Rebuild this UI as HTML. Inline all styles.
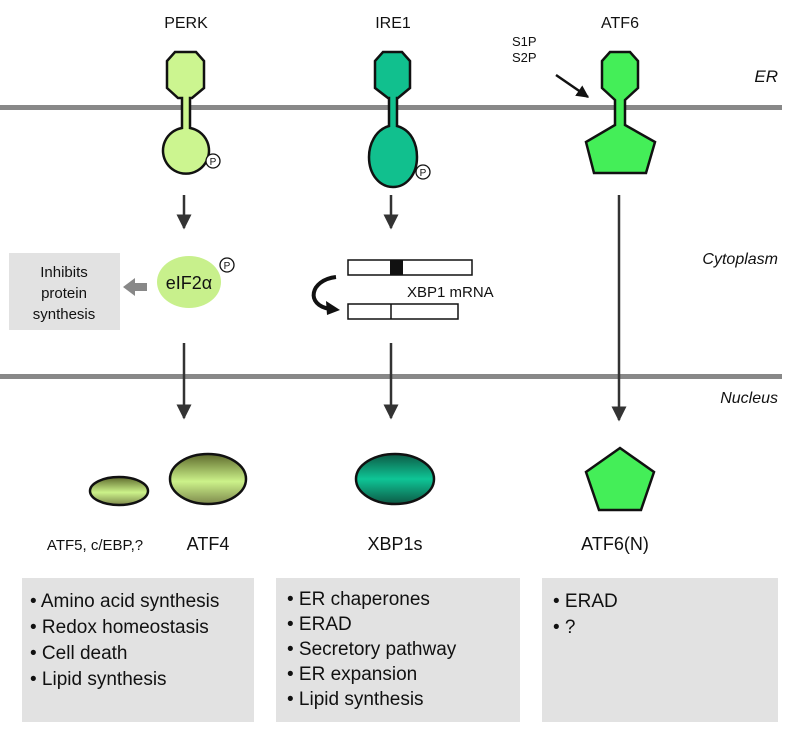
<!DOCTYPE html>
<html><head><meta charset="utf-8"><style>
html,body{margin:0;padding:0;background:#fff;}
svg{display:block;}
text{font-family:"Liberation Sans",sans-serif;fill:#111;}
</style></head><body>
<svg width="792" height="732" viewBox="0 0 792 732" xmlns="http://www.w3.org/2000/svg">
<defs>
<marker id="ah" viewBox="0 0 10 10" refX="9" refY="5" markerWidth="6" markerHeight="6" orient="auto"><path d="M0,0 L10,5 L0,10 z" fill="#333"/></marker>
<marker id="ah2" viewBox="0 0 10 10" refX="9" refY="5" markerWidth="5" markerHeight="5" orient="auto"><path d="M0,0 L10,5 L0,10 z" fill="#111"/></marker>
<linearGradient id="gP" x1="0" y1="0" x2="0" y2="1"><stop offset="0" stop-color="#5e6a2c"/><stop offset="0.55" stop-color="#ccf28a"/><stop offset="1" stop-color="#7e8a4c"/></linearGradient>
<linearGradient id="gI" x1="0" y1="0" x2="0" y2="1"><stop offset="0" stop-color="#0d5a45"/><stop offset="0.5" stop-color="#0ec596"/><stop offset="1" stop-color="#0d5a45"/></linearGradient>
</defs>
<rect x="0" y="105" width="782" height="5" fill="#888"/>
<rect x="0" y="374" width="782" height="5" fill="#888"/>
<text x="186" y="28" font-size="16" text-anchor="middle">PERK</text>
<text x="393" y="28" font-size="16" text-anchor="middle">IRE1</text>
<text x="620" y="28" font-size="16" text-anchor="middle">ATF6</text>
<text x="778" y="82" font-size="17" font-style="italic" text-anchor="end">ER</text>
<text x="778" y="264" font-size="16" font-style="italic" text-anchor="end">Cytoplasm</text>
<text x="778" y="403" font-size="16" font-style="italic" text-anchor="end">Nucleus</text>
<path d="M175,52 L196,52 L204,61 L204,88 L192,98 L190,98 L190,128 A23,23 0 1 1 182,128 L182,98 L178,98 L167,88 L167,61 Z" fill="#ccf590" stroke="#111" stroke-width="2.5"/>
<circle cx="213" cy="161" r="7" fill="#fff" stroke="#111" stroke-width="1.3"/><text x="213" y="165" font-size="10" text-anchor="middle">P</text>
<path d="M383,52 L402,52 L410,61 L410,88 L398,98 L397,98 L397,126 C412,130 417,145 417,157 C417,175 406,187 393,187 C380,187 369,175 369,157 C369,145 375,130 389,126 L389,98 L388,98 L375,88 L375,61 Z" fill="#11c08e" stroke="#111" stroke-width="2.5"/>
<circle cx="423" cy="172" r="7" fill="#fff" stroke="#111" stroke-width="1.3"/><text x="423" y="176" font-size="10" text-anchor="middle">P</text>
<path d="M610,52 L630,52 L638,61 L638,88 L625,100 L625,125 L655,142 L646,173 L594,173 L586,142 L615,125 L615,100 L602,88 L602,61 Z" fill="#44ee58" stroke="#111" stroke-width="2.5"/>
<text x="512" y="46" font-size="13">S1P</text>
<text x="512" y="62" font-size="13">S2P</text>
<line x1="556" y1="75" x2="588" y2="97" stroke="#111" stroke-width="2.5" marker-end="url(#ah2)"/>
<g stroke="#333" stroke-width="2.5" marker-end="url(#ah)">
<line x1="184" y1="195" x2="184" y2="228"/>
<line x1="391" y1="195" x2="391" y2="228"/>
<line x1="619" y1="195" x2="619" y2="420"/>
<line x1="184" y1="343" x2="184" y2="418"/>
<line x1="391" y1="343" x2="391" y2="418"/>
</g>
<rect x="9" y="253" width="111" height="77" fill="#e2e2e2"/>
<text x="64" y="277" font-size="15" text-anchor="middle">Inhibits</text>
<text x="64" y="298" font-size="15" text-anchor="middle">protein</text>
<text x="64" y="319" font-size="15" text-anchor="middle">synthesis</text>
<path d="M147,283 L135,283 L135,278 L123,287 L135,296 L135,291 L147,291 Z" fill="#888"/>
<ellipse cx="189" cy="282" rx="32" ry="26" fill="#c8f08c"/>
<text x="189" y="289" font-size="18" text-anchor="middle">eIF2α</text>
<circle cx="227" cy="265" r="7" fill="#fff" stroke="#111" stroke-width="1.3"/><text x="227" y="269" font-size="10" text-anchor="middle">P</text>
<rect x="348" y="260" width="124" height="15" fill="#fff" stroke="#111" stroke-width="1.5"/>
<rect x="390" y="260" width="13" height="15" fill="#111"/>
<rect x="348" y="304" width="110" height="15" fill="#fff" stroke="#111" stroke-width="1.5"/>
<line x1="391" y1="304" x2="391" y2="319" stroke="#111" stroke-width="1.5"/>
<path d="M336,277 C310,280 305,305 330,309" fill="none" stroke="#111" stroke-width="4"/>
<path d="M326,301 L340,310 L327,315 Z" fill="#111"/>
<text x="407" y="297" font-size="15">XBP1 mRNA</text>
<ellipse cx="119" cy="491" rx="29" ry="14" fill="url(#gP)" stroke="#111" stroke-width="2.5"/>
<ellipse cx="208" cy="479" rx="38" ry="25" fill="url(#gP)" stroke="#111" stroke-width="2.5"/>
<ellipse cx="395" cy="479" rx="39" ry="25" fill="url(#gI)" stroke="#111" stroke-width="2.5"/>
<path d="M620,448 L654,472 L641,510 L599,510 L586,472 Z" fill="#44ee58" stroke="#111" stroke-width="2.5"/>
<text x="95" y="550" font-size="15" text-anchor="middle">ATF5, c/EBP,?</text>
<text x="208" y="550" font-size="18" text-anchor="middle">ATF4</text>
<text x="395" y="550" font-size="18" text-anchor="middle">XBP1s</text>
<text x="615" y="550" font-size="18" text-anchor="middle">ATF6(N)</text>
<rect x="22" y="578" width="232" height="144" fill="#e2e2e2"/>
<rect x="276" y="578" width="244" height="144" fill="#e2e2e2"/>
<rect x="542" y="578" width="236" height="144" fill="#e2e2e2"/>
<g font-size="19">
<text x="30" y="607">• Amino acid synthesis</text>
<text x="30" y="633">• Redox homeostasis</text>
<text x="30" y="659">• Cell death</text>
<text x="30" y="685">• Lipid synthesis</text>
<text x="287" y="605">• ER chaperones</text>
<text x="287" y="630">• ERAD</text>
<text x="287" y="655">• Secretory pathway</text>
<text x="287" y="680">• ER expansion</text>
<text x="287" y="705">• Lipid synthesis</text>
<text x="553" y="607">• ERAD</text>
<text x="553" y="633">• ?</text>
</g>
</svg>
</body></html>
